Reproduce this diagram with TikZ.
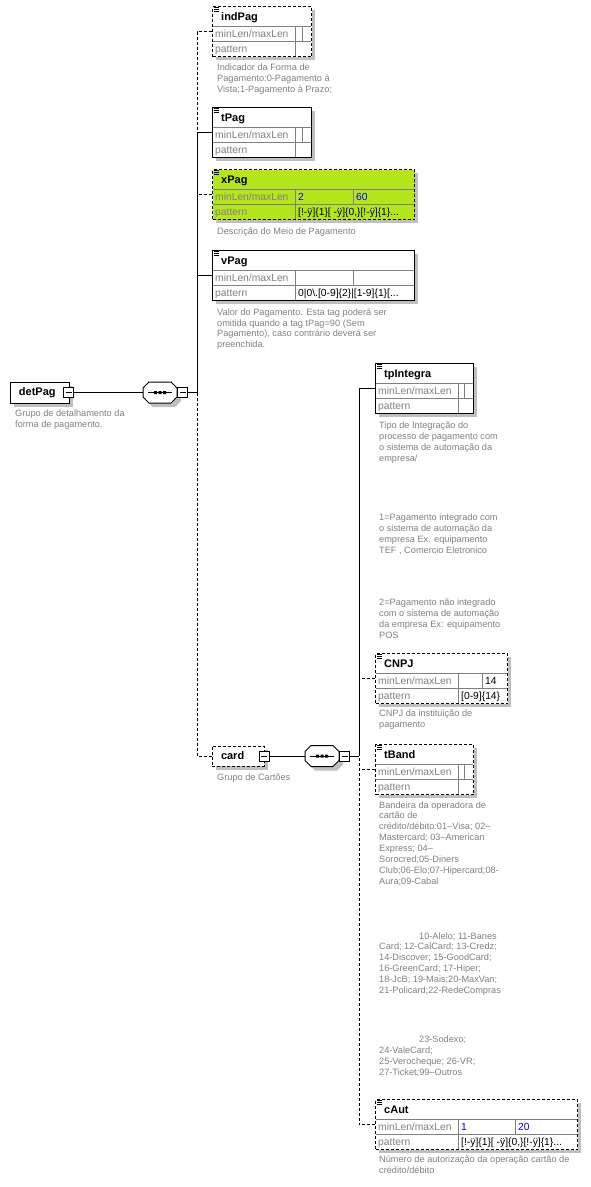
\documentclass[tikz,border=0pt]{standalone}
\usepackage{fontspec}
\setmainfont{Liberation Sans}
\usepackage{xcolor}
\usepackage{tikz}
\usetikzlibrary{positioning}

\definecolor{verdeXS}{RGB}{181,230,29}
\definecolor{cinzaDesc}{RGB}{128,128,128}
\definecolor{azulValor}{RGB}{0,0,255}

% caixa de elemento: nome, x0, y0, largura, coluna 2, estilo, titulo
\newcommand{\elemento}[7]{%
  \fill[sombra] (#2+4,#3+4) rectangle ++(#4,50);
  \node[caixa,#6,minimum width=#4pt,minimum height=50pt,anchor=north west] (#1) at (#2,#3) {};
  \draw[grade] (#2+0.5,#3+20) -- ++(#4-1,0) (#2+0.5,#3+35) -- ++(#4-1,0)
    (#2+83,#3+20) -- ++(0,29.5) (#2+#5,#3+20) -- ++(0,15);
  \draw[line width=0.8pt] (#2+1.5,#3+1.5) -- ++(5,0) (#2+1.5,#3+3.5) -- ++(5,0) (#2+1.5,#3+5.5) -- ++(5,0);
  \node[titulo,anchor=base west] at (#2+9,#3+14) {#7};
  \node[rotulo,anchor=base west] at (#2+3,#3+31.2) {minLen/maxLen};
  \node[rotulo,anchor=base west] at (#2+3,#3+46.2) {pattern};
}

% compositor sequence: nome, x, y
\newcommand{\sequencia}[3]{%
  \node[minimum width=34pt,minimum height=21pt,inner sep=0pt] (#1) at (#2,#3) {};
  \fill[sombra,shift={(#2+4,#3+4)}] (-11,-10.5) -- (11,-10.5) -- (17,-4.5) -- (17,4.5)
    -- (11,10.5) -- (-11,10.5) -- (-17,4.5) -- (-17,-4.5) -- cycle;
  \draw[liga,fill=white,shift={(#2,#3)}] (-11,-10.5) -- (11,-10.5) -- (17,-4.5) -- (17,4.5)
    -- (11,10.5) -- (-11,10.5) -- (-17,4.5) -- (-17,-4.5) -- cycle;
  \draw[liga,shift={(#2,#3)}] (-12,0) -- (12,0);
  \fill[shift={(#2,#3)}] (-6,-1.5) rectangle ++(3,3) (-1.5,-1.5) rectangle ++(3,3) (3,-1.5) rectangle ++(3,3);
}

\begin{document}
\begin{tikzpicture}[x=1pt,y=-1pt,
    caixa/.style={draw, fill=white, line width=1pt, inner sep=0pt},
    opc/.style={dash pattern=on 3pt off 2pt},
    verde/.style={fill=verdeXS},
    sombra/.style={fill=black!25},
    grade/.style={draw=gray, line width=1pt},
    liga/.style={line width=1pt},
    rotulo/.style={font=\fontsize{10.3}{12}\selectfont, text=gray, inner sep=0pt},
    valor/.style={font=\fontsize{10.3}{12}\selectfont, inner sep=0pt, anchor=base west},
    titulo/.style={font=\bfseries\fontsize{11}{13}\selectfont, inner sep=0pt},
    desc/.style={font=\fontsize{9.2}{10.9}\selectfont, text=cinzaDesc, align=left, inner sep=0pt, anchor=north west},
    menos/.style={draw, fill=white, line width=1pt, minimum size=10pt, inner sep=0pt,
      path picture={\draw[line width=1pt] ([xshift=2pt]path picture bounding box.west) -- ([xshift=-2pt]path picture bounding box.east);}}]
    \useasboundingbox (0,0) rectangle (590,1187);

    % raiz
    \fill[sombra] (14,386) rectangle ++(59,21);
    \node[caixa, titulo, minimum width=59pt, minimum height=21pt, text width=41pt, align=left] (detPag) at (39.5,392.5) {detPag};
    \node[menos] (mDet) at (68.5,392.5) {};
    \node[desc] (dDet) at (15,409.5) {Grupo de detalhamento da\\forma de pagamento.};
    \sequencia{seqDet}{160}{392.5}
    \node[menos] (mSeq) at (182.5,392.5) {};
    \coordinate (juncao) at (197,392.5);

    % filhos de detPag
    \elemento{indPag}{212}{6}{99}{90}{opc}{indPag}
    \node[desc] (dInd) at (217,63.5) {Indicador da Forma de\\Pagamento:0-Pagamento à\\Vista;1-Pagamento à Prazo;};
    \elemento{tPag}{212}{107}{99}{90}{}{tPag}
    \elemento{xPag}{212}{169}{202}{141}{opc,verde}{xPag}
    \node[valor, text=azulValor] at (298,200.2) {2};
    \node[valor, text=azulValor] at (356,200.2) {60};
    \node[valor] at (298,215.2) {[!-ÿ]\{1\}[ -ÿ]\{0,\}[!-ÿ]\{1\}...};
    \node[desc] (dX) at (217,227.5) {Descrição do Meio de Pagamento};
    \elemento{vPag}{212}{250}{202}{141}{}{vPag}
    \node[valor] at (298,296.2) {0|0\textbackslash.[0-9]\{2\}|[1-9]\{1\}[...};
    \node[desc] (dV) at (217,308.2) {Valor do Pagamento. Esta tag poderá ser\\omitida quando a tag tPag=90 (Sem\\Pagamento), caso contrário deverá ser\\preenchida.};

    % grupo card
    \fill[sombra] (216,750) rectangle ++(52,20);
    \node[caixa, opc, titulo, minimum width=52pt, minimum height=20pt, text width=34pt, align=left] (card) at (238,756) {card};
    \node[menos] (mCard) at (264,756) {};
    \node[desc] (dCard) at (217,773.5) {Grupo de Cartões};
    \sequencia{seqCard}{322}{756}
    \node[menos] (mSeqCard) at (344.5,756) {};
    \coordinate (juncao2) at (359,756);

    \elemento{tpIntegra}{375}{363}{98}{89}{}{tpIntegra}
    \node[desc] (dTp1) at (379,421.5) {Tipo de Integração do\\processo de pagamento com\\o sistema de automação da\\empresa/};
    \node[desc] (dTp2) at (379,513.5) {1=Pagamento integrado com\\o sistema de automação da\\empresa Ex. equipamento\\TEF , Comercio Eletronico};
    \node[desc] (dTp3) at (379,598.5) {2=Pagamento não integrado\\com o sistema de automação\\da empresa Ex: equipamento\\POS};
    \elemento{CNPJ}{375}{653}{132}{107}{opc}{CNPJ}
    \node[valor] at (485,684.2) {14};
    \node[valor] at (461,699.2) {[0-9]\{14\}};
    \node[desc] (dCNPJ) at (379,709.5) {CNPJ da instituição de\\pagamento};
    \elemento{tBand}{375}{744}{98}{89}{opc}{tBand}
    \node[desc] (dBand1) at (379,801.2) {Bandeira da operadora de\\cartão de\\crédito/débito:01–Visa; 02–\\Mastercard; 03–American\\Express; 04–\\Sorocred;05-Diners\\Club;06-Elo;07-Hipercard;08-\\Aura;09-Cabal};
    \node[desc] (dBand2) at (379,932.2) {\hspace*{40pt}10-Alelo; 11-Banes\\Card; 12-CalCard; 13-Credz;\\14-Discover; 15-GoodCard;\\16-GreenCard; 17-Hiper;\\18-JcB; 19-Mais;20-MaxVan;\\21-Policard;22-RedeCompras};
    \node[desc] (dBand3) at (379,1035.5) {\hspace*{40pt}23-Sodexo;\\24-ValeCard;\\25-Verocheque; 26-VR;\\27-Ticket;99–Outros};
    \elemento{cAut}{375}{1099}{202}{140}{opc}{cAut}
    \node[valor, text=azulValor] at (461,1130.2) {1};
    \node[valor, text=azulValor] at (518,1130.2) {20};
    \node[valor] at (461,1145.2) {[!-ÿ]\{1\}[ -ÿ]\{0,\}[!-ÿ]\{1\}...};
    \node[desc] (dAut) at (379,1155.5) {Número de autorização da operação cartão de\\crédito/débito};

    % ligacoes
    \draw[liga] (mDet) -- (seqDet);
    \draw[liga] (mSeq) -- (juncao);
    \draw[liga,opc] (indPag.west) -| (juncao |- tPag.west);
    \draw[liga] (tPag.west) -| (juncao);
    \draw[liga,opc] (xPag.west) -- (xPag.west -| juncao);
    \draw[liga] (vPag.west) -- (vPag.west -| juncao);
    \draw[liga,opc] (card.west) -| (juncao);
    \draw[liga] (mCard) -- (seqCard);
    \draw[liga] (mSeqCard) -- (juncao2);
    \draw[liga] (tpIntegra.west) -| (juncao2);
    \draw[liga,opc] (CNPJ.west) -- (CNPJ.west -| juncao2);
    \draw[liga,opc] (tBand.west) -- (tBand.west -| juncao2);
    \draw[liga,opc] (cAut.west) -| (juncao2);
\end{tikzpicture}
\end{document}
